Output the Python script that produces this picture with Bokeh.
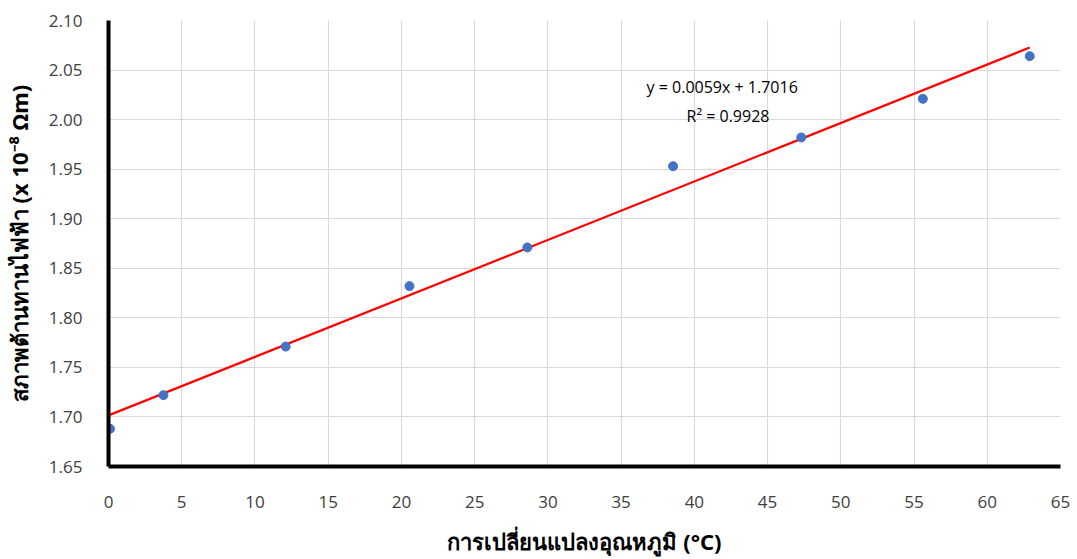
from bokeh.plotting import figure
from bokeh.models import Range1d, Label, FixedTicker, CustomJSTickFormatter
from bokeh.embed import file_html
from bokeh.resources import INLINE
import numpy as np

# data
temp_change = [0.1, 3.75, 12.1, 20.55, 28.6, 38.55, 47.3, 55.6, 62.9]
resistivity = [1.688, 1.722, 1.771, 1.832, 1.871, 1.953, 1.982, 2.021, 2.064]
slope = 0.0059
intercept = 1.7016
eq_text = "y = 0.0059x + 1.7016"
r2_text = "R² = 0.9928"
x_ticks = list(range(0, 66, 5))
y_ticks = [1.65, 1.70, 1.75, 1.80, 1.85, 1.90, 1.95, 2.00, 2.05, 2.10]
x_title = "การเปลี่ยนแปลงอุณหภูมิ (°C)"
y_title = "สภาพต้านทานไฟฟ้า (x 10⁻⁸ Ωm)"

p = figure(width=1070, height=559, output_backend="svg", toolbar_location=None,
           x_range=Range1d(0, 65), y_range=Range1d(1.65, 2.10),
           min_border_left=108, min_border_right=10, min_border_top=20, min_border_bottom=93)
p.outline_line_color = None

# trendline
tx = np.array([0, max(temp_change)])
p.line(tx, slope * tx + intercept, line_color="#ff0000", line_width=2.2)
p.scatter(temp_change, resistivity, size=9, fill_color="#4472C4", line_color="#4472C4")

p.xaxis.ticker = FixedTicker(ticks=x_ticks)
p.yaxis.ticker = FixedTicker(ticks=y_ticks)
p.yaxis.formatter = CustomJSTickFormatter(code="return tick.toFixed(2);")

for ax in (p.xaxis[0], p.yaxis[0]):
    ax.axis_line_width = 4
    ax.axis_line_color = "black"
    ax.major_tick_line_color = None
    ax.minor_tick_line_color = None
    ax.major_label_text_font = "Open Sans"
    ax.major_label_text_font_size = "17px"
    ax.major_label_text_color = "#404040"
    ax.axis_label_text_font = "Noto Sans"
    ax.axis_label_text_font_style = "bold"
    ax.axis_label_text_font_size = "22px"
    ax.axis_label_text_color = "black"

p.xaxis.major_label_standoff = 23
p.yaxis.major_label_standoff = 20
p.xaxis.axis_label = x_title
p.yaxis.axis_label = y_title
p.xaxis.axis_label_standoff = 15
p.yaxis.axis_label_standoff = 12

p.grid.grid_line_color = "#d9d9d9"
p.grid.grid_line_width = 1.2

p.add_layout(Label(x=41.9, y=2.033, text=eq_text, text_align="center", text_baseline="middle",
                   text_font="Open Sans", text_font_size="16px", text_color="black"))
p.add_layout(Label(x=42.3, y=2.004, text=r2_text, text_align="center", text_baseline="middle",
                   text_font="Open Sans", text_font_size="16px", text_color="black"))

open("out.html", "w").write(file_html(p, INLINE))
